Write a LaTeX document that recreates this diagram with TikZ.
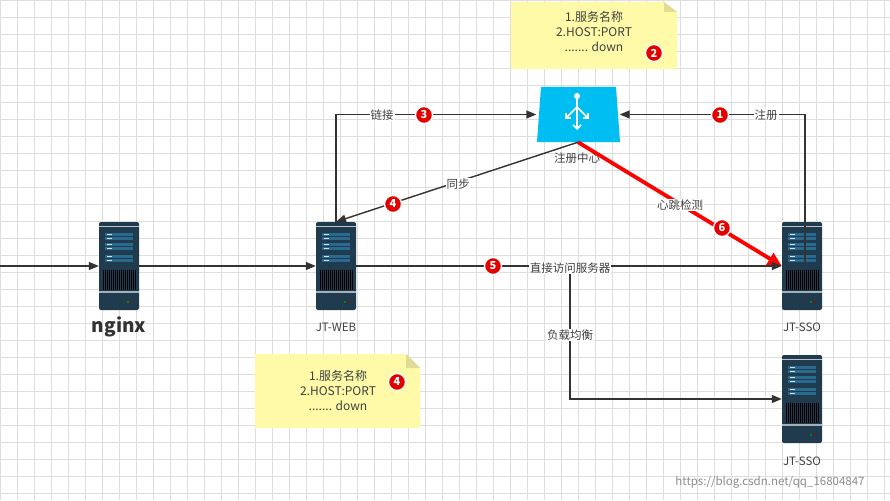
\documentclass[tikz,border=0pt]{standalone}
\usepackage{fontspec}
\setmainfont{Noto Sans CJK SC}
\usetikzlibrary{arrows.meta}
\definecolor{srv}{HTML}{1F3B4D}
\definecolor{srvl}{HTML}{2A6A8E}
\definecolor{note}{HTML}{FFFAA8}
\definecolor{reg}{HTML}{00BEF2}
\tikzset{
  conn/.style={draw=black!80, line width=1.4pt, -{Triangle[length=10pt,width=8pt]}},
  lbl/.style={fill=white, inner sep=1pt, font=\fontsize{11.5}{13}\selectfont, text=black!75},
  badge/.style={circle, fill=red!90!black, draw=white, line width=1.3pt, minimum size=17pt, inner sep=0pt, text=white, font=\bfseries\fontsize{11}{12}\selectfont},
  notebox/.style={fill=note, draw=none, align=center, font=\fontsize{12}{15}\selectfont, text=black!75},
  srvlabel/.style={font=\fontsize{11.5}{13}\selectfont, text=black!75},
  pics/server/.style={code={
    \fill[srv, rounded corners=2pt] (-20,-44) rectangle (20,44);
    \draw[white!70!srv, line width=0.8pt] (-20,-40) -- (20,-40);
    \foreach \y in {-30,-20,-8}{
      \fill[srvl] (-14,\y-3) rectangle (14,\y); \fill[srvl] (-14,\y+1) rectangle (14,\y+4);
      \fill[white!80!srvl] (-12,\y-2) rectangle (-7,\y-1); \fill[white!80!srvl] (-12,\y+2) rectangle (-7,\y+3);}
    \foreach \x in {-16,-14,...,16}{\draw[black, line width=0.7pt] (\x,4) -- (\x,24);}
    \draw[white!60!srv, line width=1.2pt] (-20,26) -- (20,26);
    \fill[green!60!black] (9,36) circle (1.2); \fill[red!70!black] (13,36) circle (1.2);
  }}
}
\begin{document}
\begin{tikzpicture}[x=1pt,y=-1pt]
\useasboundingbox (0,0) rectangle (890,500);
\fill[white] (0,0) rectangle (890,500);
\foreach \i in {0,17,...,890}{\draw[black!13, line width=0.6pt] (\i,0) -- (\i,500);}
\foreach \i in {0,17,...,500}{\draw[black!13, line width=0.6pt] (0,\i) -- (890,\i);}
% servers
\pic at (119,266) {server};
\pic at (336,266) {server};
\pic at (802,266) {server};
\pic at (802,399) {server};
\node[inner sep=0, minimum width=40pt, minimum height=88pt] (nginx) at (119,266) {};
\node[inner sep=0, minimum width=40pt, minimum height=88pt] (web) at (336,266) {};
\node[inner sep=0, minimum width=40pt, minimum height=88pt] (sso) at (802,266) {};
\node[inner sep=0, minimum width=40pt, minimum height=88pt] (sso2) at (802,399) {};
\node[font=\bfseries\fontsize{19}{22}\selectfont, text=black!80] (nginxl) at (119,327) {nginx};
\node[srvlabel] (webl) at (336,327) {JT-WEB};
\node[srvlabel] (ssol) at (802,327) {JT-SSO};
\node[srvlabel] (sso2l) at (802,461) {JT-SSO};
% registry
\fill[reg] (541,87) -- (616,87) -- (620,142) -- (537,142) -- cycle;
\node[inner sep=0, minimum width=83pt, minimum height=55pt] (reg) at (578,114.5) {};
\begin{scope}[white, line width=1.6pt]
\fill (577,96) circle (3);
\draw (577,96) -- (577,128);
\draw[-{Straight Barb[length=4pt]}] (577,107) -- (565,119);
\draw[-{Straight Barb[length=4pt]}] (577,107) -- (589,119);
\draw[-{Straight Barb[length=4pt]}] (577,112) -- (577,130);
\end{scope}
\node[srvlabel] (regl) at (577,158) {注册中心};
% notes
\fill[note] (511,2) -- (664,2) -- (677,12) -- (677,69) -- (511,69) -- cycle;
\fill[note!70!black!40!note] (664,2) -- (677,12) -- (664,12) -- cycle;
\node[notebox] (n1) at (594,32) {1.服务名称\\2.HOST:PORT\\....... down};
\node[badge] (b2) at (654,53) {2};
\fill[note] (255,354) -- (406,354) -- (420,368) -- (420,428) -- (255,428) -- cycle;
\fill[note!70!black!40!note] (406,354) -- (420,368) -- (406,368) -- cycle;
\node[notebox] (n2) at (338,391) {1.服务名称\\2.HOST:PORT\\....... down};
\node[badge] (b4b) at (397,382) {4};
% connectors
\coordinate (in) at (0,266);
\draw[conn] (in) -- (nginx.west);
\draw[conn] (nginx.east) -- (web.west);
\draw[conn] (web.north) |- (reg.west);
\node[lbl] (l3) at (382,115) {链接};
\node[badge] (b3) at (424,115) {3};
\coordinate (ssotop) at (805,262);
\draw[conn] (ssotop) |- (reg.east);
\node[lbl] (l1) at (766,115) {注册};
\node[badge] (b1) at (720,115) {1};
\draw[conn] (reg.south) -- (web.north);
\node[lbl] (l4) at (458,184) {同步};
\node[badge] (b4) at (393,204) {4};
\draw[draw=red, line width=3.8pt, -{Triangle[length=14pt,width=13pt]}] (reg.south) -- (sso.west);
\node[lbl] (l6) at (680,205) {心跳检测};
\node[badge] (b6) at (722,228) {6};
\draw[conn] (web.east) -- (sso.west);
\coordinate (split) at (570,268);
\draw[conn] (split) |- (sso2.west);
\node[lbl] (l5) at (570,268) {直接访问服务器};
\node[badge] (b5) at (493,266) {5};
\node[lbl] (llb) at (570,335) {负载均衡};
\node[font=\fontsize{11.5}{13}\selectfont, text=black!45] (wm) at (770,482) {https://blog.csdn.net/qq\_16804847};
\end{tikzpicture}
\end{document}
